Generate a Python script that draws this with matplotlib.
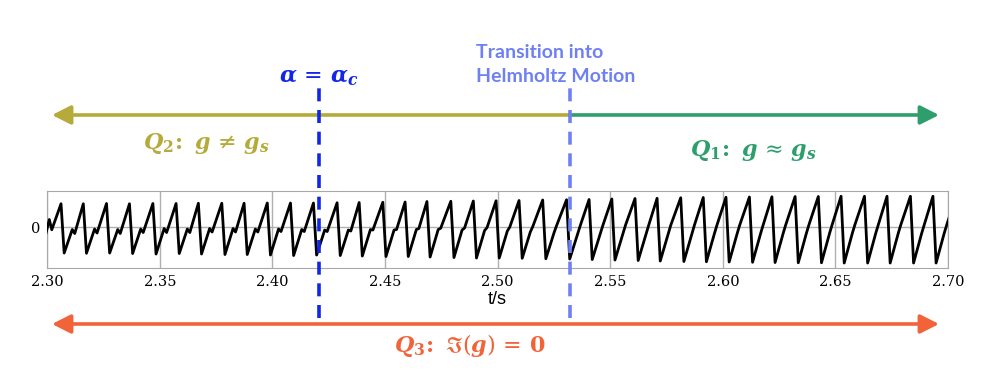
import numpy as np
import matplotlib
matplotlib.use("Agg")
from matplotlib import pyplot as plt
from matplotlib import transforms

plt.rcParams['mathtext.fontset'] = 'dejavuserif'

# peak times (s) of the bowed-string velocity signal
peak_t = [2.2959, 2.3061, 2.3160, 2.3263, 2.3365, 2.3469, 2.3572, 2.3671,
          2.3775, 2.3874, 2.3977, 2.4080, 2.4182, 2.4287, 2.4385, 2.4490,
          2.4589, 2.4686, 2.4792, 2.4892, 2.4993, 2.5095, 2.5200, 2.5306,
          2.5406, 2.5507, 2.5610, 2.5708, 2.5813, 2.5913, 2.6014, 2.6118,
          2.6218, 2.6321, 2.6424, 2.6525, 2.6629, 2.6729, 2.6833, 2.6933,
          2.7036]
peak_v = [0.93, 0.93, 0.93, 0.94, 0.93, 0.94, 0.94, 0.95, 0.95, 0.95,
          0.96, 0.96, 0.96, 0.97, 0.98, 0.99, 1.00, 1.02, 1.03, 1.04,
          1.05, 1.06, 1.08, 1.09, 1.10, 1.12, 1.14, 1.15, 1.17, 1.18,
          1.19, 1.20, 1.21, 1.22, 1.22, 1.23, 1.23, 1.23, 1.23, 1.23,
          1.23]
trough_v = [-1.04, -1.04, -1.05, -1.04, -1.06, -1.08, -1.06, -1.08, -1.10, -1.10,
            -1.12, -1.14, -1.12, -1.14, -1.16, -1.18, -1.18, -1.20, -1.22, -1.24,
            -1.24, -1.25, -1.27, -1.28, -1.30, -1.32, -1.34, -1.36, -1.38, -1.39,
            -1.40, -1.41, -1.42, -1.43, -1.43, -1.44, -1.44, -1.44, -1.44, -1.44,
            -1.44]
# shoulder (kink) on the rising slope before each peak
kink_hi = [None, 0.30, -0.10, -0.08, -0.10, -0.08, -0.06, -0.08, -0.06, -0.06,
           -0.08, -0.08, -0.10, -0.12, -0.12, -0.10, -0.12, -0.10, -0.10, -0.12,
           -0.14, -0.16, -0.20, -0.24, -0.26, -0.26, -0.25, -0.25, -0.25, -0.25,
           -0.25, -0.25, -0.25, -0.25, -0.25, -0.25, -0.25, -0.25, -0.25, -0.25,
           -0.25]
kink_lo = [None, -0.11, -0.26, -0.24, -0.26, -0.22, -0.22, -0.22, -0.20, -0.20,
           -0.20, -0.18, -0.18, -0.18, -0.16, -0.12, -0.10, -0.06, -0.05, -0.04,
           -0.02, 0.00, 0.02, 0.04, 0.06, 0.06, 0.08, 0.08, 0.08, 0.08,
           0.08, 0.08, 0.08, 0.08, 0.08, 0.08, 0.08, 0.08, 0.08, 0.08,
           0.08]

t_alpha_c = 2.4207
t_helmholtz = 2.5321
xticks = [2.30, 2.35, 2.40, 2.45, 2.50, 2.55, 2.60, 2.65, 2.70]

c_q2 = '#B5AA3A'
c_q1 = '#2E9E6C'
c_q3 = '#F2633A'
c_alpha = '#1126E8'
c_helm = '#6F80F4'

# build the polyline: trough -> shoulder -> peak -> trough ...
fall, rise1, rise2 = 0.0014, 0.0036, 0.0047
t, v = [], []
for i in range(len(peak_t)):
    if i > 0:
        t0 = peak_t[i - 1] + fall
        t += [t0 + rise1, t0 + rise2]
        v += [kink_hi[i], kink_lo[i]]
    t += [peak_t[i], peak_t[i] + fall]
    v += [peak_v[i], trough_v[i]]

fig = plt.figure(figsize=(10.08, 3.8), dpi=100)
ax = fig.add_axes([0.0469, 0.294, 0.8936, 0.204])
ax.plot(t, v, color='black', lw=2.0, zorder=3)
ax.set_xlim(2.30, 2.70)
ax.set_ylim(-1.65, 1.45)
ax.set_xticks(xticks)
ax.set_xticklabels(["%.2f" % x for x in xticks], family='DejaVu Serif', fontsize=10.5)
ax.set_yticks([0])
ax.set_yticklabels(['0'], family='DejaVu Serif', fontsize=10.5)
ax.tick_params(length=0, pad=5)
ax.grid(True, color='#b0b0b0', lw=1.0)
for s in ax.spines.values():
    s.set_color('#a8a8a8')
ax.set_xlabel('t/s', family='Liberation Sans', fontsize=13, labelpad=1)

# x in data, y in figure fraction
trans = transforms.blended_transform_factory(ax.transData, fig.transFigure)

for tx, c in [(t_alpha_c, c_alpha), (t_helmholtz, c_helm)]:
    ax.plot([tx, tx], [0.163, 0.77], transform=trans, color=c, lw=2.6,
            dashes=(3.6, 2.4), clip_on=False, zorder=5)

def arrow(x0, x1, y, c, style):
    ax.annotate('', xy=(x1, y), xytext=(x0, y), xycoords=trans, textcoords=trans,
                annotation_clip=False,
                arrowprops=dict(arrowstyle=style, color=c, lw=2.6,
                                shrinkA=0, shrinkB=0, mutation_scale=15))

arrow(t_helmholtz, 2.3021, 0.6974, c_q2, '-|>,head_length=0.75,head_width=0.38')
arrow(t_helmholtz, 2.6960, 0.6974, c_q1, '-|>,head_length=0.75,head_width=0.38')
arrow(2.3021, 2.6960, 0.1474, c_q3, '<|-|>,head_length=0.75,head_width=0.38')

fig.text(0.205, 0.623, r'$\mathbfit{Q}_{\mathbf{2}}\!\mathbf{:}\ \mathbfit{g}\,\neq\,\mathbfit{g}_{\mathbfit{s}}$',
         color=c_q2, fontsize=16, ha='center', va='center')
fig.text(0.748, 0.605, r'$\mathbfit{Q}_{\mathbf{1}}\!\mathbf{:}\ \mathbfit{g}\,\approx\,\mathbfit{g}_{\mathbfit{s}}$',
         color=c_q1, fontsize=16, ha='center', va='center')
fig.text(0.466, 0.092, r'$\mathbfit{Q}_{\mathbf{3}}\!\mathbf{:}\ \Im(\mathbfit{g})\,=\,\mathbf{0}$',
         color=c_q3, fontsize=16, ha='center', va='center')
ax.text(t_alpha_c, 0.795, r'$\mathbfit{\alpha}\,=\,\mathbfit{\alpha}_{\mathbfit{c}}$', transform=trans,
        color=c_alpha, fontsize=16, ha='center', va='center')
fig.text(0.472, 0.863, 'Transition into', color=c_helm, family='Lato',
         fontweight='bold', fontsize=14, ha='left', va='center')
fig.text(0.472, 0.800, 'Helmholtz Motion', color=c_helm, family='Lato',
         fontweight='bold', fontsize=14, ha='left', va='center')

fig.savefig('out.png', dpi=100)
